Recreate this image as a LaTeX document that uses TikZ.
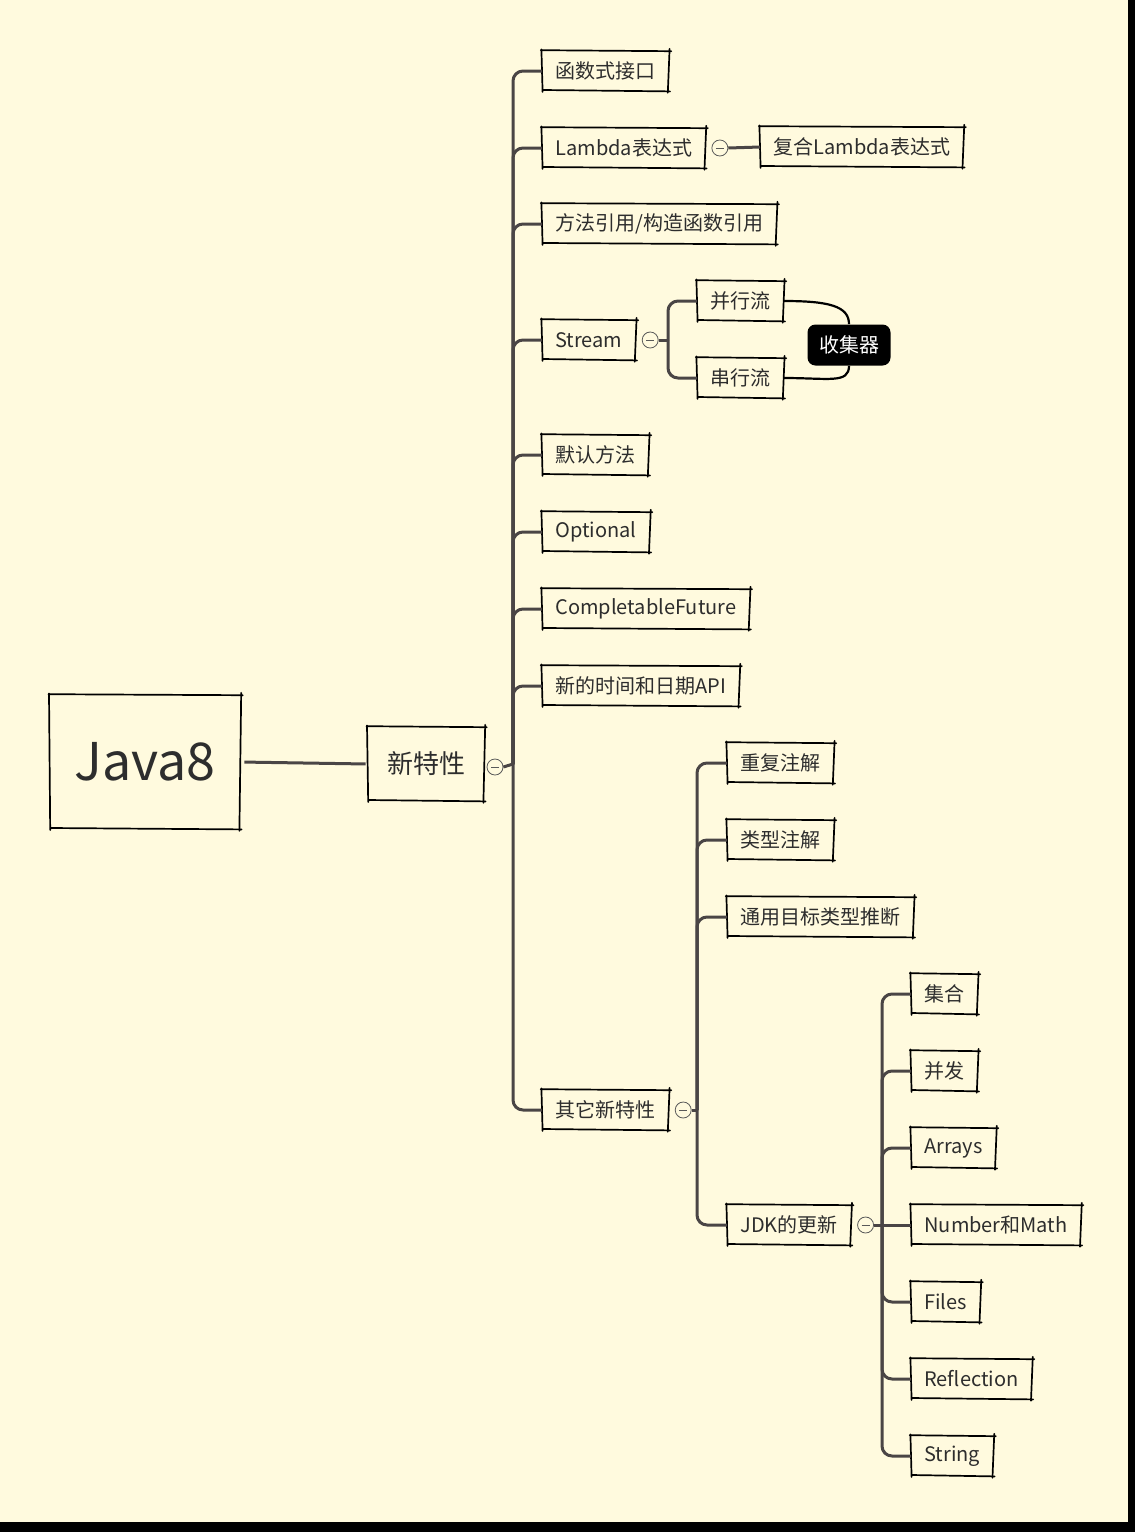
\documentclass[tikz,border=0pt]{standalone}
\usepackage{fontspec}
\setmainfont{Noto Sans CJK SC}
\usepackage{xcolor}
\usepackage{tikz}
\usetikzlibrary{positioning}

\definecolor{paper}{RGB}{255,250,222}
\definecolor{branch}{RGB}{74,69,69}
\definecolor{ink}{RGB}{45,45,45}

\tikzset{
  skline/.style={draw=black, line width=0.85pt, line cap=round},
  sketch/.style={append after command={\pgfextra{
    \draw[skline] ([shift={(-0.6pt,0.7pt)}]\tikzlastnode.north west) -- ([shift={(1.2pt,0.2pt)}]\tikzlastnode.north east);
    \draw[skline] ([shift={(0.4pt,1.4pt)}]\tikzlastnode.north east) -- ([shift={(-0.5pt,-1.2pt)}]\tikzlastnode.south east);
    \draw[skline] ([shift={(0.6pt,-0.5pt)}]\tikzlastnode.south east) -- ([shift={(0.5pt,0.2pt)}]\tikzlastnode.south west);
    \draw[skline] ([shift={(0.3pt,-0.8pt)}]\tikzlastnode.south west) -- ([shift={(-0.3pt,1.1pt)}]\tikzlastnode.north west);
  }}},
  topic/.style={sketch, anchor=west, text=ink, font=\fontsize{10}{12}\selectfont,
    minimum height=19pt, inner xsep=6.5pt},
  fold/.style={circle, draw=black!65, line width=0.4pt, minimum size=8pt, inner sep=0pt,
    path picture={\draw[black!65, line width=0.4pt]
      ([xshift=-2pt]path picture bounding box.center) -- ([xshift=2pt]path picture bounding box.center);}},
  conn/.style={draw=branch, line width=1.5pt, rounded corners=5pt},
  bond/.style={draw=black, line width=1.1pt}
}

\begin{document}
\begin{tikzpicture}[x=0.5pt, y=-0.5pt]
% page
\fill[black] (0,0) rectangle (1135,1532);
\fill[paper] (0,0) rectangle (1128,1522);

% root and main topic
\node[sketch, text=ink, minimum width=95pt, minimum height=66pt, font=\fontsize{26}{30}\selectfont] (java) at (145,762) {Java8};
\node[sketch, text=ink, minimum width=58pt, minimum height=36pt, font=\fontsize{13}{15}\selectfont] (xtx) at (426,764) {新特性};
\node[fold] (fxtx) at (495,767) {};
\draw[conn, shorten <=2pt, shorten >=1pt] (java.east) -- (xtx.west);

% new features
\node[topic] (hsjk) at (542,71) {函数式接口};
\node[topic] (lam) at (542,148) {Lambda表达式};
\node[fold, right=3pt of lam] (flam) {};
\node[topic] (fhlam) at (760,147) {复合Lambda表达式};
\node[topic] (ffyy) at (542,224) {方法引用/构造函数引用};
\node[topic] (strm) at (542,340) {Stream};
\node[fold, right=3pt of strm] (fstrm) {};
\node[topic] (bxl) at (697,301) {并行流};
\node[topic] (cxl) at (697,378) {串行流};
\node[topic] (mrff) at (542,455) {默认方法};
\node[topic] (opt) at (542,532) {Optional};
\node[topic] (cfut) at (542,609) {CompletableFuture};
\node[topic] (sjrq) at (542,686) {新的时间和日期API};
\node[topic] (qtxt) at (542,1110) {其它新特性};
\node[fold, right=3pt of qtxt] (fqtxt) {};

% other features
\node[topic] (cfzj) at (727,763) {重复注解};
\node[topic] (lxzj) at (727,840) {类型注解};
\node[topic] (tymb) at (727,917) {通用目标类型推断};
\node[topic] (jdk) at (727,1225) {JDK的更新};
\node[fold, right=3pt of jdk] (fjdk) {};

% jdk updates
\node[topic] (jihe) at (911,994) {集合};
\node[topic] (bingfa) at (911,1071) {并发};
\node[topic] (arr) at (911,1148) {Arrays};
\node[topic] (nmath) at (911,1225) {Number和Math};
\node[topic] (files) at (911,1302) {Files};
\node[topic] (refl) at (911,1379) {Reflection};
\node[topic] (str) at (911,1456) {String};

% trunks
\coordinate (t1) at (513,764);
\coordinate (t2) at (697,1110);
\coordinate (t3) at (882,1225);
\coordinate (t4) at (668,340);
\draw[conn] (fxtx.east) -- (t1);
\draw[conn] (t1) |- (hsjk.west);
\draw[conn] (t1) |- (lam.west);
\draw[conn] (t1) |- (ffyy.west);
\draw[conn] (t1) |- (strm.west);
\draw[conn] (t1) |- (mrff.west);
\draw[conn] (t1) |- (opt.west);
\draw[conn] (t1) |- (cfut.west);
\draw[conn] (t1) |- (sjrq.west);
\draw[conn] (t1) |- (qtxt.west);
\draw[conn] (flam.east) -- (fhlam.west);
\draw[conn] (fstrm.east) -- (t4);
\draw[conn] (t4) |- (bxl.west);
\draw[conn] (t4) |- (cxl.west);
\draw[conn] (fqtxt.east) -- (t2);
\draw[conn] (t2) |- (cfzj.west);
\draw[conn] (t2) |- (lxzj.west);
\draw[conn] (t2) |- (tymb.west);
\draw[conn] (t2) |- (jdk.west);
\draw[conn] (fjdk.east) -- (t3);
\draw[conn] (t3) |- (jihe.west);
\draw[conn] (t3) |- (bingfa.west);
\draw[conn] (t3) |- (arr.west);
\draw[conn] (t3) -- (nmath.west);
\draw[conn] (t3) |- (files.west);
\draw[conn] (t3) |- (refl.west);
\draw[conn] (t3) |- (str.west);

% collector
\node[fill=black, text=white, rounded corners=4pt, minimum width=41.5pt, minimum height=20.5pt,
  font=\fontsize{10}{12}\selectfont] (sjq) at (849,345) {收集器};
\draw[bond] (bxl.east) .. controls +(45,0) and +(0,-18) .. (sjq.north);
\draw[bond] (cxl.east) .. controls +(45,0) and +(0,18) .. (sjq.south);
\end{tikzpicture}
\end{document}
